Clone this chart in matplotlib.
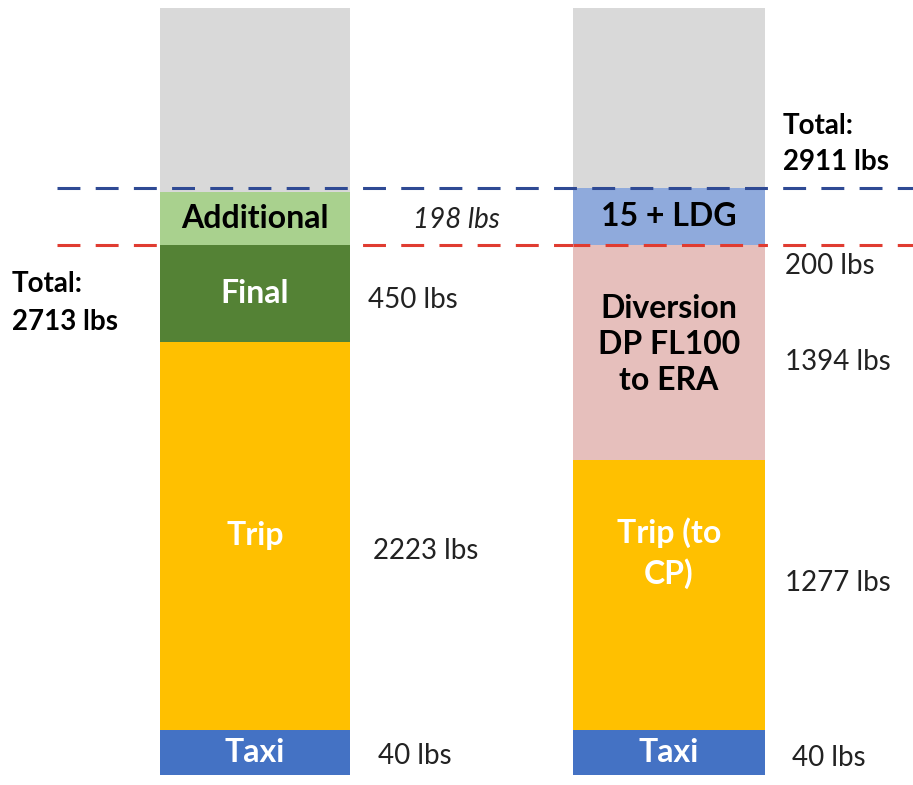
import matplotlib
matplotlib.use("Agg")
from matplotlib import pyplot as plt

plt.rcParams['font.family'] = ['Lato', 'DejaVu Sans']

# schematic segment heights (bars are not drawn to scale), bottom to top
leftNames = ["Taxi", "Trip", "Final", "Additional", ""]
leftHeights = [45, 388, 97, 53, 184]
leftValues = ["40 lbs", "2223 lbs", "450 lbs", "198 lbs", ""]
leftColors = ["#4472C4", "#FFC000", "#548235", "#A9D18E", "#D9D9D9"]
leftTextColors = ["white", "white", "white", "black", "black"]

rightNames = ["Taxi", "Trip (to\nCP)", "Diversion\nDP FL100\nto ERA", "15 + LDG", ""]
rightHeights = [45, 270, 215, 57, 180]
rightValues = ["40 lbs", "1277 lbs", "1394 lbs", "200 lbs", ""]
rightColors = ["#4472C4", "#FFC000", "#E6BFBC", "#8FAADC", "#D9D9D9"]
rightTextColors = ["white", "white", "black", "black", "black"]

leftTotal = "Total:\n2713 lbs"
rightTotal = "Total:\n2911 lbs"

fig = plt.figure(figsize=(9.13, 7.85), dpi=100)
ax = fig.add_axes([0, 0, 1, 1])
ax.set_xlim(0, 913)
ax.set_ylim(0, 785)
ax.axis('off')

base = 10

def drawBar(x, width, heights, colors, names, textColors, zorder):
    bottom = base
    centers = []
    for h, c, n, tc in zip(heights, colors, names, textColors):
        ax.bar(x, h, width=width, bottom=bottom, color=c, zorder=zorder)
        centers.append(bottom + h / 2)
        if n:
            ls = 1.15
            dy = 0
            if n.startswith("Trip ("):
                ls, dy = 1.4, 42
            elif n.startswith("Diversion"):
                ls, dy = 1.3, 8
            ax.text(x, bottom + h / 2 + dy, n, ha='center', va='center', color=tc,
                    fontsize=23, fontweight='bold', linespacing=ls, zorder=5)
        bottom += h
    return centers

# red line sits behind the left bar but over the right one
leftCenters = drawBar(255, 190, leftHeights, leftColors, leftNames, leftTextColors, 2)
rightCenters = drawBar(669, 192, rightHeights, rightColors, rightNames, rightTextColors, 2)

redY = base + sum(leftHeights[:3])
blueY = base + sum(rightHeights[:4])
dash = (0, (7.5, 5))
ax.axhline(redY, xmin=57 / 913, xmax=1, color="#E03C31", lw=2.2, ls=dash, zorder=1)
ax.axhline(redY, xmin=573 / 913, xmax=765 / 913, color="#E03C31", lw=2.2, ls=(2.0, (7.5, 5)), zorder=3)
ax.axhline(blueY, xmin=57 / 913, xmax=1, color="#2F4A94", lw=2.2, ls=dash, zorder=3)

# value labels to the right of the bars
leftOffsets = [(378, -4), (373, -15), (368, -6), (456, -2)]
for (vx, dy), c, v in zip(leftOffsets, leftCenters, leftValues):
    if v == "198 lbs":
        ax.text(vx, c + dy, v, ha='center', va='center', fontsize=20, style='italic', color="#222222")
    else:
        ax.text(vx, c + dy, v, ha='left', va='center', fontsize=20, color="#222222")

rightOffsets = [(792, -5), (785, 12), (785, -10), (785, -50)]
for (vx, dy), c, v in zip(rightOffsets, rightCenters, rightValues):
    ax.text(vx, c + dy, v, ha='left', va='center', fontsize=20, color="#222222")

ax.text(12, 785 - 303, leftTotal, ha='left', va='center', fontsize=20,
        fontweight='bold', linespacing=1.55)
ax.text(783, 785 - 144, rightTotal, ha='left', va='center', fontsize=20,
        fontweight='bold', linespacing=1.5)

fig.savefig("out.png", dpi=100)
